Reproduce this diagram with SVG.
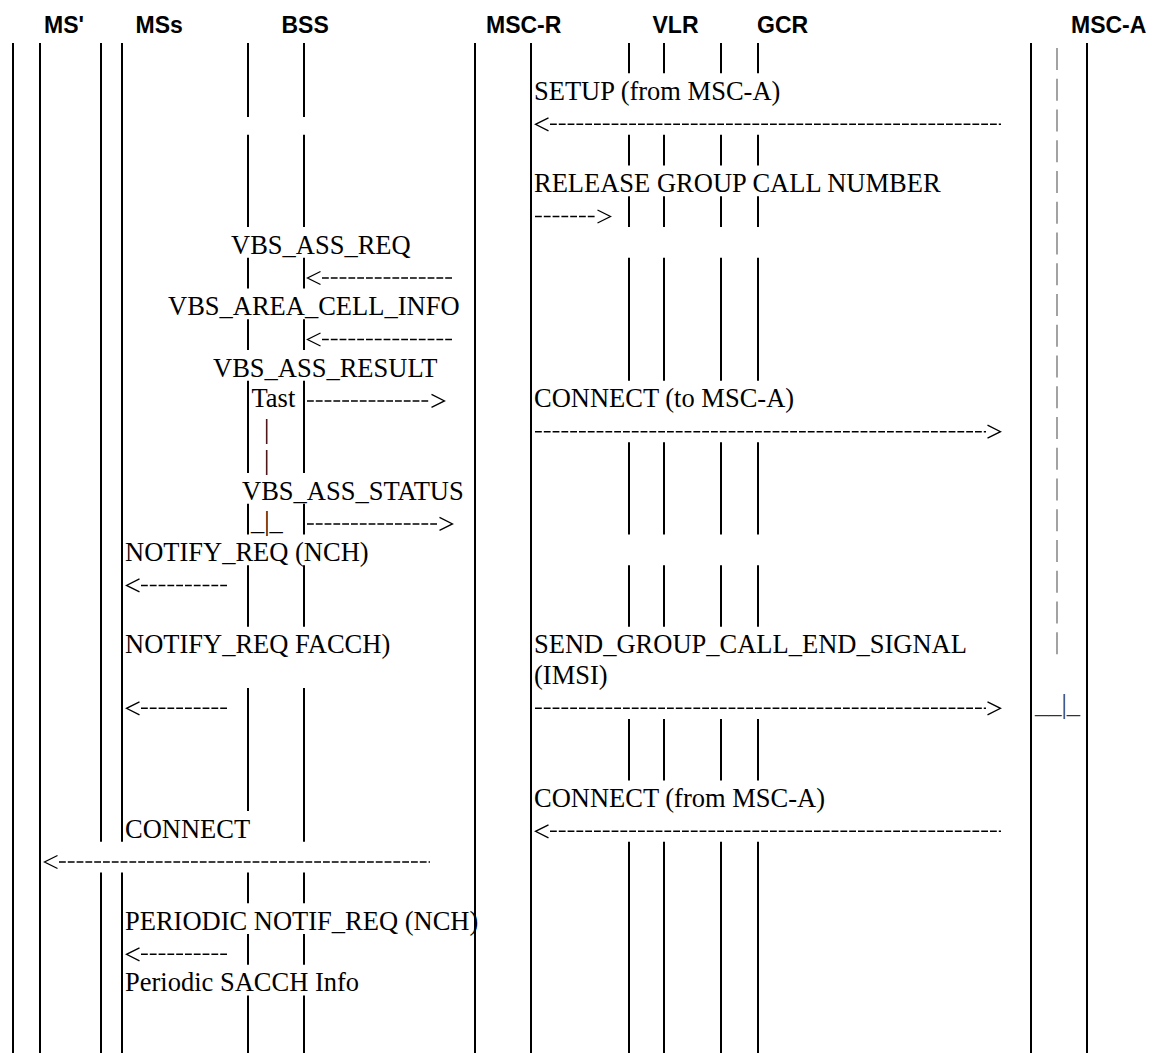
<svg xmlns="http://www.w3.org/2000/svg" width="1154" height="1053" viewBox="0 0 1154 1053">
<style>
.hd{font-family:"Liberation Sans",Arial,sans-serif;font-weight:bold;font-size:23px;fill:#000}
.t{font-family:"Liberation Serif","Times New Roman",serif;font-size:26.5px;fill:#000}
.ll{stroke:#000;stroke-width:2;fill:none}
.dl{stroke:#000;stroke-width:1.5;stroke-dasharray:6.8 2;fill:none}
.ah{stroke:#000;stroke-width:1.3;fill:none}
.gp{stroke:#666;stroke-width:1.2;stroke-dasharray:22 8.74;fill:none}
</style>
<rect width="1154" height="1053" fill="#fff"/>
<g id="ms-prime">
<text class="hd" x="44" y="33">MS'</text>
<path class="ll" d="M13 43V1053M40 43V1053"/>
</g>
<g id="mss">
<text class="hd" x="135.5" y="33">MSs</text>
<path class="ll" d="M101 43V841.8M101 872.6V1053M122 43V841.8M122 872.6V1053"/>
</g>
<g id="bss">
<text class="hd" x="281.5" y="33">BSS</text>
<path class="ll" d="M248 43V117M248 134.8V227M248 257.8V288.5M248 319.3V350M248 380.7V473M248 503.7V534.4M248 565.2V626.7M248 688.1V811.1M248 872.6V903.3M248 934.1V964.8M248 995.5V1053"/>
<path class="ll" d="M304 43V117M304 134.8V227M304 257.8V288.5M304 319.3V350M304 380.7V473M304 503.7V534.4M304 565.2V626.7M304 688.1V841.8M304 872.6V903.3M304 934.1V964.8M304 995.5V1053"/>
</g>
<g id="msc-r">
<text class="hd" x="486" y="33">MSC-R</text>
<path class="ll" d="M475 43V1053M531 43V1053"/>
</g>
<g id="vlr">
<text class="hd" x="652.5" y="33">VLR</text>
<path class="ll" d="M629 43V73.3M629 134.8V165.6M629 196.3V227M629 257.8V380.7M629 442.2V534.4M629 565.2V626.7M629 718.9V780.4M629 841.8V1053"/>
<path class="ll" d="M664 43V73.3M664 134.8V165.6M664 196.3V227M664 257.8V380.7M664 442.2V534.4M664 565.2V626.7M664 718.9V780.4M664 841.8V1053"/>
</g>
<g id="gcr">
<text class="hd" x="757" y="33">GCR</text>
<path class="ll" d="M721 43V73.3M721 134.8V165.6M721 196.3V227M721 257.8V380.7M721 442.2V534.4M721 565.2V626.7M721 718.9V780.4M721 841.8V1053"/>
<path class="ll" d="M758 43V73.3M758 134.8V165.6M758 196.3V227M758 257.8V380.7M758 442.2V534.4M758 565.2V626.7M758 718.9V780.4M758 841.8V1053"/>
</g>
<g id="msc-a">
<text class="hd" x="1071" y="33">MSC-A</text>
<path class="ll" d="M1031 43V1053M1087 43V1053"/>
<path class="gp" d="M1057 48.1V654.2"/>
<text class="t" x="1035" y="713" style="fill:#333">__|_</text>
</g>
<g id="labels">
<text class="t" x="534" y="99.8">SETUP (from MSC-A)</text>
<text class="t" x="534" y="192.1">RELEASE GROUP CALL NUMBER</text>
<text class="t" x="231" y="253.5">VBS_ASS_REQ</text>
<text class="t" x="168" y="315">VBS_AREA_CELL_INFO</text>
<text class="t" x="213" y="376.5">VBS_ASS_RESULT</text>
<text class="t" x="251.5" y="407.2">Tast</text>
<text class="t" x="534" y="407.2">CONNECT (to MSC-A)</text>
<text class="t" x="264" y="438">|</text>
<text class="t" x="264" y="468.7">|</text>
<text class="t" x="242" y="499.5">VBS_ASS_STATUS</text>
<text class="t" x="251" y="530.2">_|_</text>
<text class="t" x="125" y="560.9">NOTIFY_REQ (NCH)</text>
<text class="t" x="125" y="653.2">NOTIFY_REQ FACCH)</text>
<text class="t" x="534" y="653.2">SEND_GROUP_CALL_END_SIGNAL</text>
<text class="t" x="534" y="683.9">(IMSI)</text>
<text class="t" x="534" y="806.9">CONNECT (from MSC-A)</text>
<text class="t" x="125" y="837.6">CONNECT</text>
<text class="t" x="125" y="929.8">PERIODIC NOTIF_REQ (NCH)</text>
<text class="t" x="125" y="991.3">Periodic SACCH Info</text>
</g>
<g id="connectors">
<path class="dl" d="M550 124.3H1001"/><path class="ah" d="M548.5 117.8L535.5 124.3L548.5 130.8"/>
<path class="dl" d="M535 216.5H596"/><path class="ah" d="M597.5 210L610.5 216.5L597.5 223"/>
<path class="dl" d="M322 278H453"/><path class="ah" d="M320.5 271.5L307.5 278L320.5 284.5"/>
<path class="dl" d="M322 339.5H453"/><path class="ah" d="M320.5 333L307.5 339.5L320.5 346"/>
<path class="dl" d="M307 400.9H430"/><path class="ah" d="M431.5 394.4L444.5 400.9L431.5 407.4"/>
<path class="dl" d="M535 431.7H986"/><path class="ah" d="M987.5 425.2L1000.5 431.7L987.5 438.2"/>
<path class="dl" d="M307 523.9H438"/><path class="ah" d="M439.5 517.4L452.5 523.9L439.5 530.4"/>
<path class="dl" d="M141 585.4H227"/><path class="ah" d="M139.5 578.9L126.5 585.4L139.5 591.9"/>
<path class="dl" d="M141 708.3H227"/><path class="ah" d="M139.5 701.8L126.5 708.3L139.5 714.8"/>
<path class="dl" d="M535 708.3H986"/><path class="ah" d="M987.5 701.8L1000.5 708.3L987.5 714.8"/>
<path class="dl" d="M550 831.3H1001"/><path class="ah" d="M548.5 824.8L535.5 831.3L548.5 837.8"/>
<path class="dl" d="M59 862H430"/><path class="ah" d="M57.5 855.5L44.5 862L57.5 868.5"/>
<path class="dl" d="M141 954.3H227"/><path class="ah" d="M139.5 947.8L126.5 954.3L139.5 960.8"/>
</g>
</svg>
